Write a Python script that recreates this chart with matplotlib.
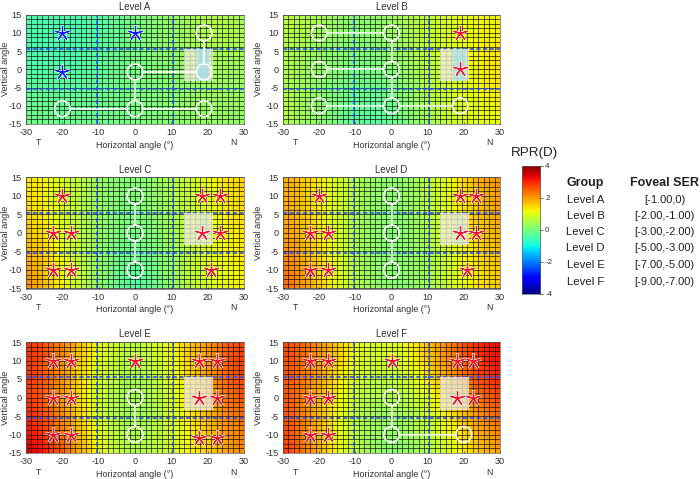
import numpy as np
import matplotlib
matplotlib.use("Agg")
import matplotlib.pyplot as plt
from matplotlib.patches import Rectangle, Ellipse

plt.rcParams['font.family'] = ['Liberation Sans', 'DejaVu Sans']
plt.rcParams['axes.unicode_minus'] = False

W, H = 700, 479
levels = ['Level A', 'Level B', 'Level C', 'Level D', 'Level E', 'Level F']
ser_ranges = ['[-1.00,0)', '[-2.00,-1.00)', '[-3.00,-2.00)', '[-5.00,-3.00)', '[-7.00,-5.00)', '[-9.00,-7.00)']

# RPR maps: rows top to bottom (15, 7.5, 0, -7.5, -15), columns -30..30 by 10
rpr_a = [[-0.4, -0.5, -0.4, -0.05, 0.2, 0.6, 0.4],
         [-0.5, -0.6, -0.4, -0.05, 0.2, 0.6, 0.4],
         [-0.4, -0.5, -0.3, -0.05, 0.1, 0.4, 0.3],
         [-0.2, -0.25, -0.2, -0.05, 0.1, 0.3, 0.3],
         [-0.1, -0.15, -0.15, -0.05, 0.1, 0.3, 0.2]]
rpr_b = [[0.7, 0.5, 0.1, 0.3, 0.7, 1.1, 1.2],
         [0.6, 0.3, 0.0, 0.2, 0.7, 1.1, 1.3],
         [0.5, 0.2, -0.1, 0.0, 0.6, 1.1, 1.4],
         [0.6, 0.2, -0.3, -0.2, 0.5, 1.0, 1.3],
         [0.6, 0.2, -0.4, -0.4, 0.4, 0.9, 1.1]]
rpr_c = [[1.4, 1.0, 0.3, -0.1, 0.5, 1.1, 1.6],
         [1.5, 0.9, 0.2, -0.1, 0.4, 1.0, 1.5],
         [1.7, 1.0, 0.2, -0.2, 0.3, 1.0, 1.4],
         [2.0, 1.1, 0.2, -0.4, 0.2, 1.0, 1.3],
         [2.3, 1.2, 0.2, -0.7, 0.2, 1.0, 1.2]]
rpr_d = [[1.9, 1.3, 0.5, 0.0, 0.5, 1.5, 2.2],
         [1.9, 1.3, 0.4, 0.0, 0.5, 1.4, 2.0],
         [2.0, 1.4, 0.4, -0.1, 0.4, 1.3, 1.9],
         [2.3, 1.5, 0.4, 0.0, 0.3, 1.2, 1.7],
         [2.6, 1.6, 0.5, 0.0, 0.3, 1.1, 1.6]]
rpr_e = [[3.0, 2.3, 1.0, 0.5, 1.1, 2.0, 2.9],
         [3.0, 2.1, 0.8, 0.4, 0.9, 2.0, 2.9],
         [2.9, 2.0, 0.7, 0.1, 0.8, 1.9, 2.7],
         [3.2, 2.2, 0.8, 0.2, 0.8, 1.6, 2.4],
         [3.6, 2.7, 1.0, 0.4, 0.8, 1.5, 2.2]]
rpr_f = [[2.8, 2.2, 1.0, 0.8, 1.6, 2.7, 3.4],
         [2.7, 2.0, 0.9, 0.6, 1.4, 2.5, 3.2],
         [2.7, 1.8, 0.6, 0.3, 0.9, 2.0, 2.8],
         [2.8, 1.7, 0.5, 0.1, 0.6, 1.5, 2.4],
         [3.0, 1.8, 0.5, 0.0, 0.4, 1.2, 2.0]]
rpr_maps = [rpr_a, rpr_b, rpr_c, rpr_d, rpr_e, rpr_f]

stars_a = [(-20, 10), (0, 10), (-20, -0.7)]
stars_b = [(19, 10), (19, 0)]
stars_c = [(-20, 10), (18.5, 10), (23.5, 10), (-22.5, 0), (-17.5, 0), (18.5, 0), (23.5, 0),
           (-22.5, -10), (-17.5, -10), (21, -10)]
stars_d = [(-20, 10), (19, 10), (23.5, 10), (-22.5, 0), (-17.5, 0), (19, 0), (23.5, 0),
           (-22.5, -10), (-17.5, -10), (21, -10)]
stars_e = [(-22.5, 10), (-17.5, 10), (0, 10), (17.5, 10), (22.5, 10), (-22.5, 0), (-17.5, 0),
           (17.5, 0), (22.5, 0), (-22.5, -10), (-17.5, -10), (17.5, -11), (22.5, -11)]
stars_f = [(-22.5, 10), (-17.5, 10), (0, 10), (18, 10), (22.5, 10), (-22.5, 0), (-17.5, 0),
           (18, 0), (22.5, 0), (-22.5, -10), (-17.5, -10)]
star_sets = [stars_a, stars_b, stars_c, stars_d, stars_e, stars_f]
star_colors = ['#1a1aff', '#f01030', '#f01030', '#f01030', '#f01030', '#f01030']

circles_a = [(19, 10), (19, -0.7), (0, -0.7), (0, -10.8), (-20, -10.8), (19, -10.8)]
links_a = [(0, 1), (1, 2), (2, 3), (3, 4), (3, 5)]
circles_b = [(-20, 10), (0, 10), (-20, 0), (0, 0), (-20, -10), (0, -10), (19, -10)]
links_b = [(0, 1), (1, 3), (2, 3), (3, 5), (4, 5), (5, 6)]
circles_c = [(0, 10), (0, 0), (0, -10)]
links_c = [(0, 1), (1, 2)]
circles_d = [(0, 10), (0, 0), (0, -10)]
links_d = [(0, 1), (1, 2)]
circles_e = [(0, 0), (0, -10)]
links_e = [(0, 1)]
circles_f = [(0, 0), (0, -10), (20, -10)]
links_f = [(0, 1), (1, 2)]
circle_sets = [circles_a, circles_b, circles_c, circles_d, circles_e, circles_f]
link_sets = [links_a, links_b, links_c, links_d, links_e, links_f]

# panel boxes in pixels: left, right, top, bottom
boxes = [(26, 244, 14.7, 124), (283, 500, 14.7, 124),
         (26, 244, 177.5, 288.5), (283, 500, 177.5, 288.5),
         (26, 244, 342, 453), (283, 500, 342, 453)]
ylabel_px = [10, 263, 10, 263, 10, 263]
grid_x = np.arange(-30, 30.1, 1.5)
grid_y = np.arange(-15, 15.1, 1.25)
fovea_tint = [0.7, 0.65, 0.12, 0.18, 0.0, 0.0]

fig = plt.figure(figsize=(W / 100, H / 100), dpi=100)
TXT = '#303030'


def axes_px(l, r, t, b):
    return fig.add_axes([l / W, 1 - b / H, (r - l) / W, (b - t) / H])


for i, (l, r, t, b) in enumerate(boxes):
    ax = axes_px(l, r, t, b)
    ax.imshow(rpr_maps[i], cmap='jet', vmin=-4, vmax=4, extent=(-35, 35, -18.75, 18.75),
              interpolation='bicubic', aspect='auto', origin='upper', zorder=1)
    ax.vlines(grid_x, -15, 15, color='#101010', lw=0.7, alpha=0.7, zorder=2)
    ax.hlines(grid_y, -30, 30, color='#101010', lw=0.7, alpha=0.7, zorder=2)
    for v in (-10.5, 10.5):
        ax.axvline(v, color='#2a4ff0', lw=1.2, ls=(0, (2.5, 1.5)), zorder=3)
    for v in (-5.5, 5.5):
        ax.axhline(v, color='#2a4ff0', lw=1.2, ls=(0, (2.5, 1.5)), zorder=3)
    ax.add_patch(Rectangle((13.5, -3.3), 8, 8.8, fc='#efecdc', ec='none', alpha=0.78, zorder=4))
    if fovea_tint[i] > 0:
        ax.add_patch(Rectangle((17, -3.3), 3.5, 8.8, fc='#a0e0f0', ec='none',
                               alpha=fovea_tint[i], zorder=4))
    rx, ry = 2.15, 2.15
    pts = circle_sets[i]
    for a, c in link_sets[i]:
        x0, y0 = pts[a]
        x1, y1 = pts[c]
        d = np.hypot(x1 - x0, y1 - y0)
        ux, uy = (x1 - x0) / d, (y1 - y0) / d
        ax.plot([x0 + ux * rx, x1 - ux * rx], [y0 + uy * ry, y1 - uy * ry],
                color='white', lw=1.3, alpha=0.9, zorder=5, solid_capstyle='butt')
    for (x, y) in pts:
        ax.add_patch(Ellipse((x, y), 2 * rx, 2 * ry, fc='none', ec='white', lw=1.2, zorder=6))
    sx = [p[0] for p in star_sets[i]]
    sy = [p[1] for p in star_sets[i]]
    ax.plot(sx, sy, ls='none', marker=(5, 2, 0), ms=11.5, mew=1.9, color='white', alpha=0.85, zorder=7)
    ax.plot(sx, sy, ls='none', marker=(5, 2, 0), ms=10.5, mew=0.9, color=star_colors[i], zorder=8)

    ax.set_xlim(-30, 30)
    ax.set_ylim(-15, 15)
    ax.set_xticks(np.arange(-30, 31, 10))
    ax.set_yticks(np.arange(-15, 16, 5))
    ax.tick_params(labelsize=6.6, colors=TXT, length=1.5, width=0.5, direction='in', pad=3)
    for s in ax.spines.values():
        s.set_color('#606060')
        s.set_linewidth(0.5)
    ax.set_title(levels[i], fontsize=6.9, color=TXT, pad=3.5)
    ax.set_xlabel('Horizontal angle (°)', fontsize=6.5, color=TXT, labelpad=2.5)
    ax.set_ylabel('Vertical angle', fontsize=6.5, color=TXT)
    ax.yaxis.set_label_coords((ylabel_px[i] - l) / (r - l), 0.5)
    ax.text(-26.5, -20.2, 'T', fontsize=6.2, color=TXT, ha='center', va='center')
    ax.text(27, -20.2, 'N', fontsize=6.2, color=TXT, ha='center', va='center')

# colour bar
cax = axes_px(521.7, 540.3, 165.7, 294)
ramp = np.linspace(4, -4, 256).reshape(-1, 1)
cax.imshow(ramp, cmap='jet', vmin=-4, vmax=4, extent=(0, 1, -4, 4), aspect='auto')
cax.set_xticks([])
cax.yaxis.tick_right()
cax.set_yticks([-4, -2, 0, 2, 4])
cax.tick_params(labelsize=5.8, colors=TXT, length=2, width=0.5, direction='out', pad=1.5)
for s in cax.spines.values():
    s.set_color('#606060')
    s.set_linewidth(0.5)


def txt(x, y, s, **kw):
    fig.text(x / W, 1 - y / H, s, color=kw.pop('color', '#202020'), va='center', **kw)


txt(534, 153, 'RPR(D)', fontsize=9.6, ha='center')
txt(585.5, 183, 'Group', fontsize=9.0, ha='center', fontweight='bold')
txt(664, 183, 'Foveal SER', fontsize=9.0, ha='center', fontweight='bold')
row_y = [200, 216.5, 232, 248.5, 264.5, 282]
for y, lev, ser in zip(row_y, levels, ser_ranges):
    txt(585.5, y, lev, fontsize=8.2, ha='center')
    txt(664.5, y, ser, fontsize=8.0, ha='center')

fig.savefig('out.png', dpi=100)
